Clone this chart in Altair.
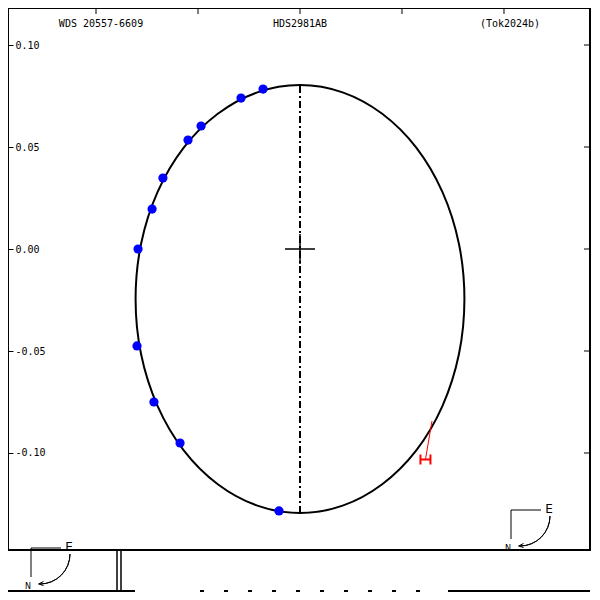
import altair as alt
import pandas as pd

# ---- data (arcsec) ----
orbit_x = [0.0806, 0.0779, 0.0698, 0.0570, 0.0403, 0.0209, 0.0, -0.0209, -0.0403, -0.0570,
           -0.0698, -0.0779, -0.0806, -0.0779, -0.0698, -0.0570, -0.0403, -0.0209, 0.0,
           0.0209, 0.0403, 0.0570, 0.0698, 0.0779]
orbit_y = [-0.0245, 0.0026, 0.0280, 0.0497, 0.0663, 0.0768, 0.0804, 0.0768, 0.0663, 0.0497,
           0.0280, 0.0026, -0.0245, -0.0516, -0.0770, -0.0987, -0.1153, -0.1258, -0.1294,
           -0.1258, -0.1153, -0.0987, -0.0770, -0.0516]

obs_x = [-0.0181, -0.0289, -0.0485, -0.0549, -0.0672, -0.0725, -0.0794, -0.0799, -0.0716, -0.0588, -0.0103]
obs_y = [0.0784, 0.0740, 0.0603, 0.0534, 0.0348, 0.0196, 0.0000, -0.0475, -0.0750, -0.0951, -0.1284]

hip_x = [0.0615]
hip_y = [-0.1032]
hip_res_x = [0.0647]
hip_res_y = [-0.0843]

node_x = [0.0]
node_y = [0.0799]
node_y2 = [-0.1294]

primary_x = [0.0]
primary_y = [0.0]

tick_values = [0.10, 0.05, 0.0, -0.05, -0.10]

titles = ["WDS 20557-6609", "HDS2981AB", "(Tok2024b)"]

# ---- scales ----
XMIN, XMAX = -0.14314, 0.14216
YMIN, YMAX = -0.14755, 0.11814
PW, PH = 582, 542
xs = alt.Scale(domain=[XMIN, XMAX], nice=False, zero=False)
ys = alt.Scale(domain=[YMIN, YMAX], nice=False, zero=False)
yaxis = alt.Axis(values=tick_values, format=".2f", orient="left", offset=-5, tickSize=5,
                 domain=False, grid=False, labelAlign="left", labelPadding=-7,
                 labelBaseline="middle", labelFont="DejaVu Sans Mono", labelFontSize=10,
                 labelColor="black", tickColor="black", tickWidth=1, title=None,
                 labelExpr="replace(datum.label, '\u2212', '-')")


def X(f):
    return alt.X(f, type="quantitative", scale=xs, axis=None)


def Y(f):
    return alt.Y(f, type="quantitative", scale=ys, axis=yaxis)


orbit_df = pd.DataFrame({"x": orbit_x, "y": orbit_y, "i": list(range(len(orbit_x)))})
obs_df = pd.DataFrame({"x": obs_x, "y": obs_y})
hip_df = pd.DataFrame({"x": hip_x, "y": hip_y, "x0": hip_res_x, "y0": hip_res_y})
node_df = pd.DataFrame({"x": node_x, "y": node_y, "y2": node_y2})
prim_df = pd.DataFrame({"x": primary_x, "y": primary_y})
ticks_df = pd.DataFrame({"v": tick_values})
one = pd.DataFrame({"a": [0]})

ellipse = alt.Chart(orbit_df).mark_line(
    interpolate="cardinal-closed", color="black", strokeWidth=2
).encode(x=X("x"), y=Y("y"), order="i:Q")

node = alt.Chart(node_df).mark_rule(color="black", strokeWidth=2, strokeDash=[7, 3, 2, 3]).encode(
    x=X("x"), y=Y("y"), y2="y2:Q")

cross = alt.Chart(prim_df).mark_point(
    shape="M-1,0L1,0M0,-1L0,1", size=900, filled=False, color="black", strokeWidth=1.5, opacity=1
).encode(x=X("x"), y=Y("y"))

points = alt.Chart(obs_df).mark_circle(size=85, color="#0000ff", opacity=1).encode(
    x=X("x"), y=Y("y"))

hip_line = alt.Chart(hip_df).mark_rule(color="#ff0000", strokeWidth=1).encode(
    x=X("x0"), y=Y("y0"), x2="x:Q", y2="y:Q")

hip_mark = alt.Chart(hip_df).mark_point(
    shape="M-1,-1L-1,1M1,-1L1,1M-1,0L1,0", size=100, filled=False, color="#ff0000",
    strokeWidth=2, opacity=1
).encode(x=X("x"), y=Y("y"))

top_ticks = alt.Chart(ticks_df).mark_rule(color="black", strokeWidth=1).encode(
    x=X("v"), y=alt.value(0), y2=alt.value(6))

right_ticks = alt.Chart(ticks_df).mark_rule(color="black", strokeWidth=1).encode(
    y=Y("v"), x=alt.value(PW - 6), x2=alt.value(PW))

title_layers = []
for t, px in zip(titles, [93, 292, 502]):
    title_layers.append(
        alt.Chart(one).mark_text(text=t, font="DejaVu Sans Mono", fontSize=10, color="black",
                                 align="center", baseline="middle").encode(
            x=alt.value(px), y=alt.value(16)))


def compass(dx, dy):
    h = alt.Chart(one).mark_rule(color="black", strokeWidth=1).encode(
        x=alt.value(503 + dx), x2=alt.value(533 + dx), y=alt.value(502 + dy))
    v = alt.Chart(one).mark_rule(color="black", strokeWidth=1).encode(
        x=alt.value(503 + dx), y=alt.value(502 + dy), y2=alt.value(531 + dy))
    e = alt.Chart(one).mark_text(text="E", font="DejaVu Sans", fontSize=12, color="black",
                                 align="center", baseline="middle").encode(
        x=alt.value(541 + dx), y=alt.value(501 + dy))
    n = alt.Chart(one).mark_text(text="N", font="DejaVu Sans", fontSize=8, color="black",
                                 align="center", baseline="middle").encode(
        x=alt.value(500 + dx), y=alt.value(541 + dy))
    arc = alt.Chart(one).mark_arc(radius=30, radius2=30, theta=1.5708, theta2=3.1416,
                                  filled=False, stroke="black", strokeWidth=1).encode(
        x=alt.value(512 + dx), y=alt.value(508 + dy))
    head = alt.Chart(one).mark_point(shape="M1,-1L-1,0L1,0.6", size=25, filled=False,
                                     color="black", strokeWidth=1, opacity=1).encode(
        x=alt.value(513 + dx), y=alt.value(538 + dy))
    return [h, v, e, n, arc, head]


# artefact strip at the bottom of the reference picture
glitch = [
    alt.Chart(one).mark_rule(color="black", strokeWidth=1.5).encode(
        x=alt.value(109), y=alt.value(PH + 1), y2=alt.value(584)),
    alt.Chart(one).mark_rule(color="black", strokeWidth=1.5).encode(
        x=alt.value(113), y=alt.value(PH + 1), y2=alt.value(584)),
    alt.Chart(one).mark_rule(color="black", strokeWidth=2).encode(
        x=alt.value(0), x2=alt.value(127), y=alt.value(583)),
    alt.Chart(one).mark_rule(color="black", strokeWidth=2, strokeDash=[4, 20]).encode(
        x=alt.value(192), x2=alt.value(420), y=alt.value(583)),
    alt.Chart(one).mark_rule(color="black", strokeWidth=2).encode(
        x=alt.value(440), x2=alt.value(PW), y=alt.value(583)),
]

chart = alt.layer(
    ellipse, node, cross, points, hip_line, hip_mark, top_ticks, right_ticks,
    *title_layers, *compass(0, 0), *compass(-480, 38), *glitch
).properties(
    width=PW, height=PH,
    autosize=alt.AutoSizeParams(type="none"),
    padding={"left": 0, "top": 0, "right": 2, "bottom": 42},
    background="white",
).configure_view(stroke="black", strokeWidth=2)

chart.save("out.html", embed_options={"renderer": "svg", "actions": False})
